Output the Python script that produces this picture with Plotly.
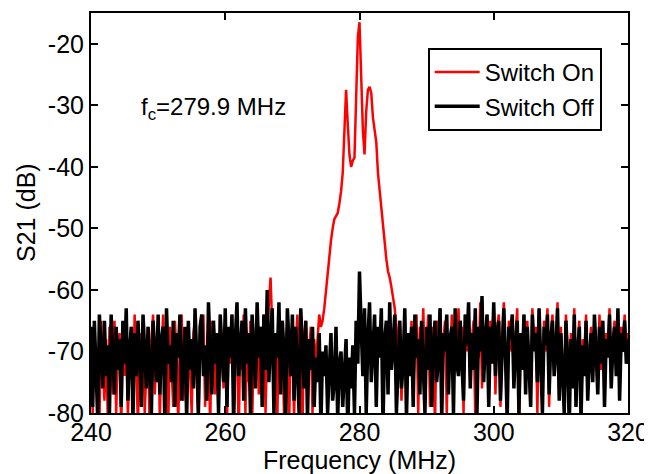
import numpy as np
import plotly.graph_objs as go

# frequency grid (MHz), 0.25 MHz step
freq_start = 240.0
freq_stop = 320.0
freq_step = 0.25

# S21 (dB), switch off - one list per 5 MHz block
off_240 = [-66, -79, -65, -72, -81, -64, -70, -76, -65, -74, -69, -80, -64, -71, -77, -66, -73, -68, -79, -65]
off_245 = [-72, -63, -78, -70, -66, -81, -67, -74, -65, -71, -79, -64, -69, -76, -66, -73, -80, -65, -70, -75]
off_250 = [-64, -77, -68, -66, -82, -63, -72, -69, -75, -65, -79, -67, -71, -64, -78, -70, -66, -81, -65, -73]
off_255 = [-68, -76, -63, -71, -80, -66, -64, -74, -69, -78, -62, -70, -77, -65, -72, -67, -80, -64, -69, -75]
off_260 = [-63, -79, -66, -71, -64, -82, -68, -62, -74, -70, -65, -78, -63, -72, -67, -80, -64, -69, -76, -62]
off_265 = [-71, -66, -79, -64, -73, -60, -75, -68, -63, -80, -67, -71, -62, -77, -65, -70, -81, -63, -69, -74]
off_270 = [-64, -78, -66, -72, -80, -63, -70, -76, -65, -81, -68, -73, -66, -79, -71, -75, -67, -82, -70, -74]
off_275 = [-69, -80, -73, -67, -78, -75, -66, -81, -72, -70, -79, -74, -68, -83, -71, -76, -69, -80, -65, -72]
off_280 = [-57, -66, -74, -63, -80, -68, -62, -75, -70, -64, -79, -66, -71, -63, -82, -68, -65, -77, -62, -73]
off_285 = [-69, -64, -80, -70, -65, -76, -72, -63, -81, -67, -74, -66, -79, -64, -71, -68, -77, -65, -72, -80]
off_290 = [-66, -73, -64, -79, -69, -65, -75, -71, -63, -81, -67, -70, -64, -77, -68, -66, -80, -63, -72, -74]
off_295 = [-65, -71, -78, -64, -69, -62, -76, -67, -73, -63, -80, -66, -70, -61, -75, -68, -64, -79, -66, -72]
off_300 = [-62, -74, -67, -65, -78, -70, -63, -71, -81, -66, -68, -64, -76, -69, -65, -80, -67, -73, -64, -77]
off_305 = [-66, -72, -79, -64, -70, -67, -75, -63, -71, -80, -66, -69, -64, -77, -68, -65, -74, -70, -63, -78]
off_310 = [-67, -73, -80, -65, -71, -82, -68, -76, -64, -79, -70, -66, -81, -69, -74, -65, -78, -71, -67, -75]
off_315 = [-64, -70, -77, -66, -72, -65, -79, -68, -71, -64, -76, -69, -66, -74, -63, -78, -67, -70, -65, -72]
off_320 = [-68]

# S21 (dB), switch on
on_240 = [-67, -80, -66, -75, -70, -82, -65, -73, -78, -68, -81, -66, -72, -77, -65, -80, -70, -67, -83, -66]
on_245 = [-74, -65, -81, -69, -66, -79, -64, -72, -82, -67, -70, -65, -80, -73, -66, -84, -68, -64, -77, -71]
on_250 = [-65, -81, -70, -64, -76, -68, -83, -66, -72, -79, -65, -71, -82, -67, -64, -78, -70, -81, -66, -73]
on_255 = [-80, -67, -65, -74, -82, -68, -71, -64, -79, -70, -66, -83, -65, -72, -77, -67, -81, -64, -70, -76]
on_260 = [-65, -82, -68, -72, -64, -79, -70, -66, -84, -67, -73, -64, -80, -69, -75, -65, -82, -68, -71, -63]
on_265 = [-77, -66, -70, -64, -80, -68, -62, -58, -66, -79, -69, -82, -64, -74, -67, -80, -70, -65, -83, -68]
on_270 = [-66, -81, -69, -64, -75, -71, -83, -67, -65, -78, -70, -66, -80, -68, -72, -67, -64, -66, -65, -63]
on_275 = [-60, -57, -55, -52, -50, -48.5, -48, -47.5, -46, -44, -41, -35, -27.5, -33, -38, -40, -39, -38.5, -30, -19]
on_280 = [-16.5, -24, -34, -38, -31, -27.5, -27, -28, -32, -34, -36, -41, -44, -47, -50, -53, -55, -57, -58, -59.5]
on_285 = [-61, -63, -66, -69, -65, -78, -70, -64, -81, -67, -73, -65, -76, -69, -64, -80, -66, -71, -63, -74]
on_290 = [-68, -64, -79, -66, -71, -82, -65, -70, -63, -76, -68, -65, -80, -67, -72, -64, -77, -66, -69, -63]
on_295 = [-72, -66, -80, -64, -70, -63, -75, -68, -65, -81, -67, -71, -62, -76, -66, -69, -64, -78, -65, -70]
on_300 = [-63, -77, -66, -64, -79, -68, -62, -72, -80, -65, -70, -64, -75, -67, -63, -83, -69, -71, -64, -76]
on_305 = [-65, -74, -78, -63, -69, -66, -80, -64, -72, -76, -65, -70, -63, -79, -67, -64, -73, -71, -62, -77]
on_310 = [-66, -75, -79, -64, -70, -80, -67, -73, -63, -78, -69, -65, -82, -68, -72, -64, -77, -70, -66, -74]
on_315 = [-65, -71, -76, -64, -73, -66, -78, -67, -70, -63, -75, -68, -65, -73, -64, -77, -66, -69, -64, -71]
on_320 = [-67]

s21_off = (off_240 + off_245 + off_250 + off_255 + off_260 + off_265 + off_270 + off_275 +
           off_280 + off_285 + off_290 + off_295 + off_300 + off_305 + off_310 + off_315 + off_320)
s21_on = (on_240 + on_245 + on_250 + on_255 + on_260 + on_265 + on_270 + on_275 +
          on_280 + on_285 + on_290 + on_295 + on_300 + on_305 + on_310 + on_315 + on_320)

freq = np.arange(len(s21_on)) * freq_step + freq_start

x_ticks = [240, 260, 280, 300, 320]
y_ticks = [-80, -70, -60, -50, -40, -30, -20]
# MATLAB style labels use a plain hyphen
y_tick_text = ["-80", "-70", "-60", "-50", "-40", "-30", "-20"]

font_main = "Liberation Sans, Arial, sans-serif"

fig = go.Figure()

fig.add_trace(go.Scatter(x=freq, y=s21_on, mode="lines", name="Switch On",
                         line=dict(color="#ff0000", width=2.5)))
fig.add_trace(go.Scatter(x=freq, y=s21_off, mode="lines", name="Switch Off",
                         line=dict(color="#000000", width=3.5)))

fig.add_annotation(x=247.1, y=-30.5, xref="x", yref="y",
                   text="f<sub>c</sub>=279.9 MHz", showarrow=False,
                   xanchor="left", yanchor="middle",
                   font=dict(size=24, color="black", family=font_main))

# axis titles placed as annotations (MATLAB puts them close to the labels)
fig.add_annotation(x=0.5, y=-0.1175, xref="paper", yref="paper",
                   text="Frequency (MHz)", showarrow=False,
                   xanchor="center", yanchor="middle",
                   font=dict(size=25, color="black", family=font_main))
fig.add_annotation(x=-0.121, y=0.5, xref="paper", yref="paper",
                   text="S21 (dB)", showarrow=False, textangle=-90,
                   xanchor="center", yanchor="middle",
                   font=dict(size=25, color="black", family=font_main))

# the page body adds an 8 px margin, so the figure is a bit smaller than the window
fig.update_layout(
    width=644, height=466,
    margin=dict(l=83, r=24, t=5, b=61, autoexpand=False),
    paper_bgcolor="white", plot_bgcolor="white",
    font=dict(family=font_main, size=25, color="black"),
    showlegend=True,
    legend=dict(x=0.951, y=0.9125, xanchor="right", yanchor="top",
                bgcolor="white", bordercolor="black", borderwidth=2,
                font=dict(size=24), tracegroupgap=0, itemwidth=45),
)

fig.update_xaxes(range=[freq_start, freq_stop], tickvals=x_ticks, automargin=False,
                 showline=True, mirror="ticks", linecolor="black", linewidth=2,
                 ticks="inside", ticklen=7, tickwidth=1.5, tickcolor="black",
                 ticklabelstandoff=-4,
                 showgrid=False, zeroline=False)
fig.update_yaxes(range=[-80, -15], tickvals=y_ticks, ticktext=y_tick_text, automargin=False,
                 showline=True, mirror="ticks", linecolor="black", linewidth=2,
                 ticks="inside", ticklen=7, tickwidth=1.5, tickcolor="black",
                 showgrid=False, zeroline=False)

fig.write_html("out.html")
